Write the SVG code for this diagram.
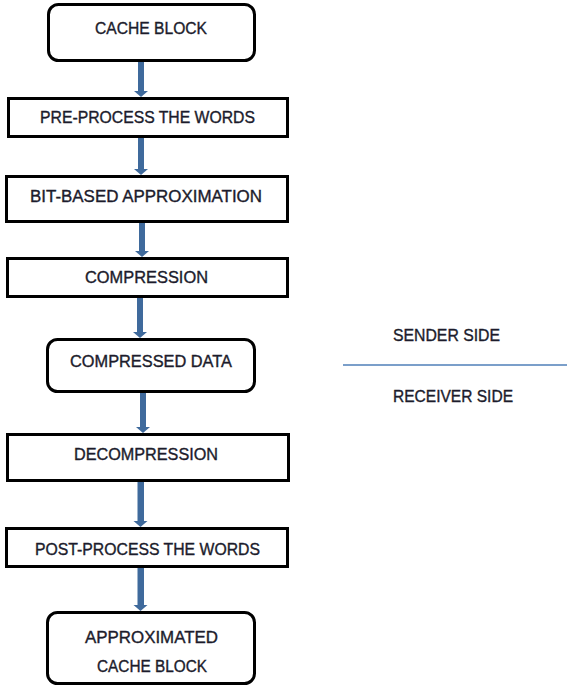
<svg xmlns="http://www.w3.org/2000/svg" width="567" height="687" viewBox="0 0 567 687">
  <style>
    .box { fill: #ffffff; stroke: #000000; stroke-width: 3; }
    .lbl { font-family: "Liberation Sans", Arial, sans-serif; font-size: 16px; fill: #1c1c2c; stroke: #1c1c2c; stroke-width: 0.35; text-anchor: middle; }
    .side { font-family: "Liberation Sans", Arial, sans-serif; font-size: 16px; fill: #1c1c2c; stroke: #1c1c2c; stroke-width: 0.35; }
    .shaft { fill: #3f6a9c; }
  </style>
  <defs>
    <!-- thick blue down-arrow head, tip at origin -->
    <g id="arrowHead">
      <polygon points="-7,-6 7,-6 0,0" fill="#3f6a9c"/>
    </g>
  </defs>
  <rect width="567" height="687" fill="#ffffff"/>

  <g id="connectors">
    <rect class="shaft" x="138" y="61" width="6" height="31"/>
    <use href="#arrowHead" x="141" y="97"/>
    <rect class="shaft" x="138" y="138" width="6" height="32"/>
    <use href="#arrowHead" x="141" y="175"/>
    <rect class="shaft" x="139" y="223" width="6" height="29"/>
    <use href="#arrowHead" x="142" y="257"/>
    <rect class="shaft" x="137" y="298" width="6" height="35"/>
    <use href="#arrowHead" x="140" y="338"/>
    <rect class="shaft" x="140" y="393" width="6" height="35"/>
    <use href="#arrowHead" x="143" y="433"/>
    <rect class="shaft" x="137.5" y="482" width="6.5" height="40"/>
    <use href="#arrowHead" x="140.5" y="527"/>
    <rect class="shaft" x="137.5" y="568" width="6.5" height="38"/>
    <use href="#arrowHead" x="140.5" y="611"/>
  </g>

  <g id="cache-block">
    <rect class="box" x="48.5" y="4.5" width="206" height="56" rx="10"/>
    <text class="lbl" x="151" y="34" textLength="112" lengthAdjust="spacingAndGlyphs">CACHE BLOCK</text>
  </g>
  <g id="pre-process">
    <rect class="box" x="8.5" y="98.5" width="279" height="38"/>
    <text class="lbl" x="147.5" y="123" textLength="215" lengthAdjust="spacingAndGlyphs">PRE-PROCESS THE WORDS</text>
  </g>
  <g id="bit-approx">
    <rect class="box" x="6.5" y="176.5" width="281" height="45"/>
    <text class="lbl" x="146" y="202" textLength="232" lengthAdjust="spacingAndGlyphs">BIT-BASED APPROXIMATION</text>
  </g>
  <g id="compression">
    <rect class="box" x="7.5" y="258.5" width="280" height="38"/>
    <text class="lbl" x="146.5" y="283" textLength="123" lengthAdjust="spacingAndGlyphs">COMPRESSION</text>
  </g>
  <g id="compressed-data">
    <rect class="box" x="47.5" y="339.5" width="207" height="52" rx="10"/>
    <text class="lbl" x="151" y="367" textLength="162" lengthAdjust="spacingAndGlyphs">COMPRESSED DATA</text>
  </g>
  <g id="decompression">
    <rect class="box" x="7.5" y="434.5" width="281" height="46"/>
    <text class="lbl" x="146" y="460" textLength="144" lengthAdjust="spacingAndGlyphs">DECOMPRESSION</text>
  </g>
  <g id="post-process">
    <rect class="box" x="6.5" y="528.5" width="281" height="38"/>
    <text class="lbl" x="147.5" y="555" textLength="225" lengthAdjust="spacingAndGlyphs">POST-PROCESS THE WORDS</text>
  </g>
  <g id="approx-cache-block">
    <rect class="box" x="47.5" y="612.5" width="207" height="71" rx="10"/>
    <text class="lbl" x="151.5" y="643" textLength="133" lengthAdjust="spacingAndGlyphs">APPROXIMATED</text>
    <text class="lbl" x="152" y="672" textLength="110" lengthAdjust="spacingAndGlyphs">CACHE BLOCK</text>
  </g>

  <g id="side-legend">
    <text class="side" x="393" y="341" textLength="107" lengthAdjust="spacingAndGlyphs">SENDER SIDE</text>
    <line x1="343" y1="365" x2="567" y2="365" stroke="#4f7fb8" stroke-width="1.5"/>
    <text class="side" x="393" y="402" textLength="120" lengthAdjust="spacingAndGlyphs">RECEIVER SIDE</text>
  </g>
</svg>
